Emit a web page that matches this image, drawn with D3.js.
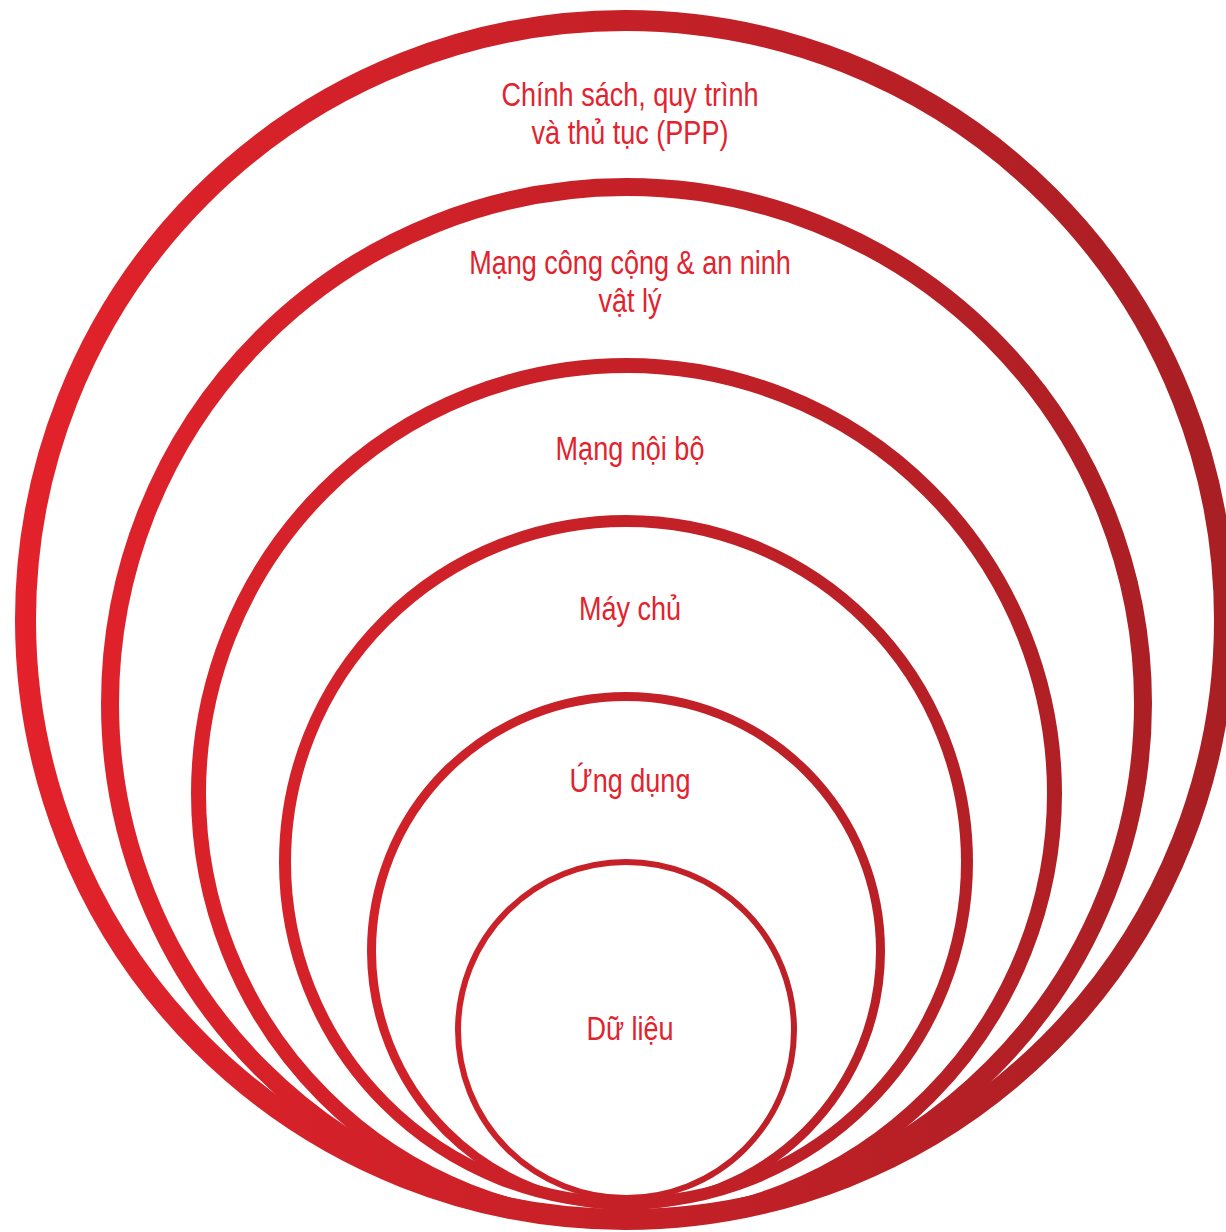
<!DOCTYPE html>
<html>
<head>
<meta charset="utf-8">
<script src="https://cdn.jsdelivr.net/npm/d3@7"></script>
<style>
  html, body { margin: 0; padding: 0; background: #fff; }
  #chart text { font-family: "Liberation Sans", Arial, sans-serif; }
</style>
</head>
<body>
<div id="chart"></div>
<script>
// Layer names, outer to inner (each label can have several lines)
const layers = [
  ["Chính sách, quy trình", "và thủ tục (PPP)"],
  ["Mạng công cộng & an ninh", "vật lý"],
  ["Mạng nội bộ"],
  ["Máy chủ"],
  ["Ứng dụng"],
  ["Dữ liệu"]
];

// Ring geometry (outer edge, in picture units)
const ringLeft = [15, 101, 191, 279, 367, 455];
const ringRight = [1235, 1152, 1062, 973, 885, 797];
const ringTop = [10, 178, 358, 515, 692, 859];
const ringStroke = [21, 18, 15, 12, 9, 6];

// First baseline of each label
const labelY = [106, 274, 460, 620, 792, 1040];
const labelX = [630, 630, 630, 630, 630, 630];

const width = 1226, height = 1232;

const x = d3.scaleLinear().domain([0, 1226]).range([0, width]);
const y = d3.scaleLinear().domain([0, 1232]).range([0, height]);

const svg = d3.select("#chart").append("svg")
  .attr("width", width)
  .attr("height", height);

// Red gradient left (bright) to right (dark)
const grad = svg.append("defs").append("linearGradient")
  .attr("id", "ringGrad")
  .attr("gradientUnits", "userSpaceOnUse")
  .attr("x1", 0).attr("x2", width)
  .attr("y1", 0).attr("y2", 0);
grad.append("stop").attr("offset", "0%").attr("stop-color", "#e4222b");
grad.append("stop").attr("offset", "100%").attr("stop-color", "#a81f24");

const rings = layers.map((d, i) => {
  const r = (ringRight[i] - ringLeft[i]) / 2;
  return {
    cx: (ringLeft[i] + ringRight[i]) / 2,
    cy: ringTop[i] + r,
    r: r - ringStroke[i] / 2,
    w: ringStroke[i]
  };
});

svg.selectAll(".ring")
  .data(rings)
  .enter().append("circle")
  .attr("class", "ring")
  .attr("cx", d => x(d.cx))
  .attr("cy", d => y(d.cy))
  .attr("r", d => x(d.r))
  .attr("fill", "none")
  .attr("stroke", "url(#ringGrad)")
  .attr("stroke-width", d => d.w);

// Labels (condensed look: squeeze horizontally)
const labels = svg.selectAll(".label")
  .data(layers)
  .enter().append("text")
  .attr("class", "label")
  .attr("transform", (d, i) => "translate(" + x(labelX[i]) + "," + y(labelY[i]) + ") scale(0.82,1)")
  .attr("text-anchor", "middle")
  .style("font-size", "33px")
  .style("fill", "#e2232d");

labels.selectAll("tspan")
  .data(d => d)
  .enter().append("tspan")
  .attr("x", 0)
  .attr("dy", (d, i) => i === 0 ? 0 : 38)
  .text(d => d);
</script>
</body>
</html>
